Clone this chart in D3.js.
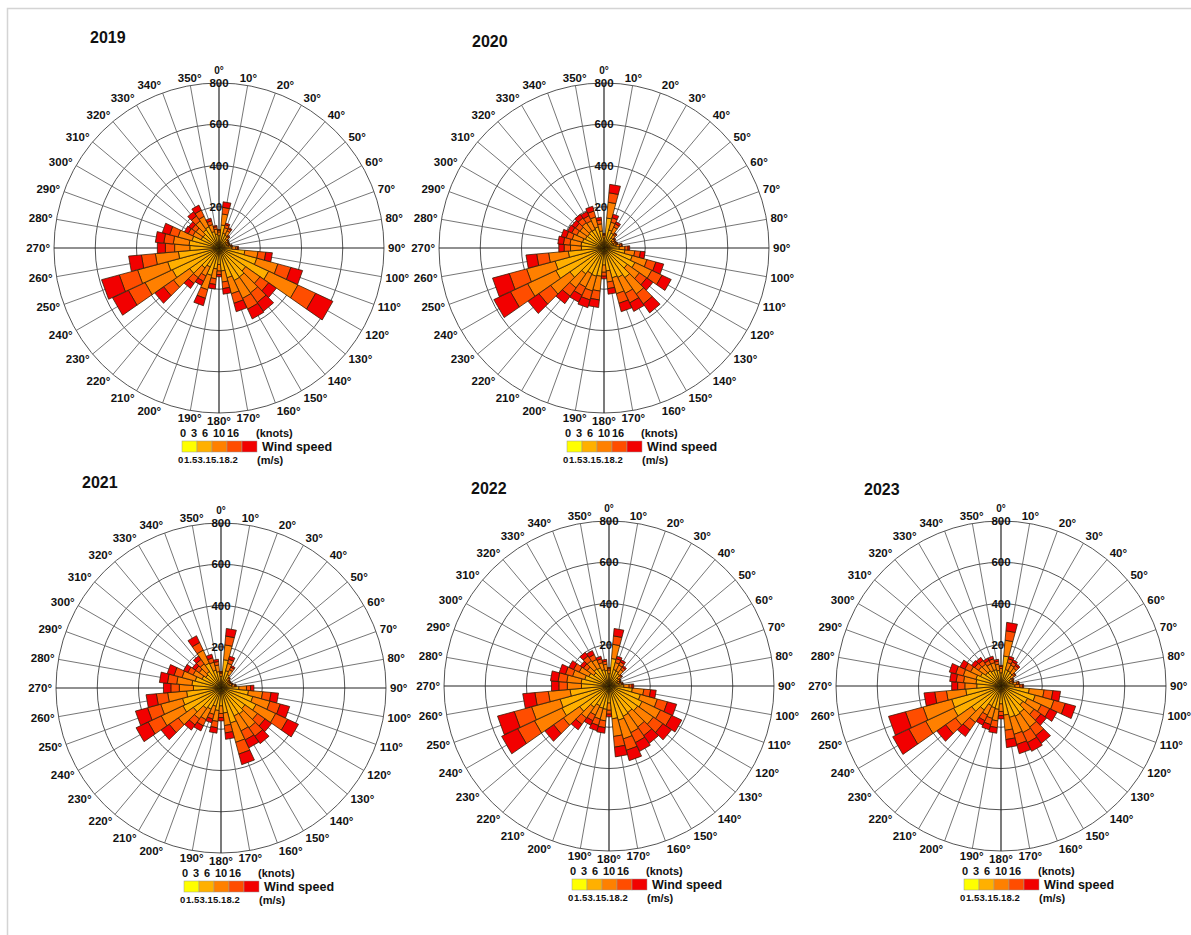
<!DOCTYPE html>
<html lang="en">
<head>
<meta charset="UTF-8">
<title>Wind roses 2019-2023</title>
<style>
  body { margin: 0; background: #fff; }
  svg { display: block; font-family: "Liberation Sans", Arial, sans-serif; }
  .deg { font-size: 11.5px; font-weight: bold; fill: #111; }
  .ring-label { font-size: 11.5px; font-weight: bold; fill: #111; }
  .title { font-size: 16px; font-weight: bold; fill: #111; }
  .leg { font-size: 11px; font-weight: bold; fill: #111; }
</style>
</head>
<body>
<svg id="chart" width="1191" height="935"></svg>
<script src="https://d3js.org/d3.v7.min.js"></script>
<script>
// directions of the 36 sectors (degrees, from north, clockwise)
const directions = d3.range(0, 360, 10);

// speed classes (m/s and knots)
const classLabels = ["0-1.5", "1.5-3.1", "3.1-5.1", "5.1-8.2", ">=8.2"];
const knotTicks = ["0", "3", "6", "10", "16"];
const msTicks = ["0", "1.5", "3.1", "5.1", "8.2"];
const classColors = ["#ffff00", "#ffb000", "#ff8000", "#ff4d00", "#f20000"];
const ringTicks = [200, 400, 600, 800];

// counts per direction: [0-1.5, 1.5-3.1, 3.1-5.1, 5.1-8.2, >8.2]
const rose2019 = [
  [20,40,18,8,4],[20,92,54,32,27],[20,54,28,15,8],[20,48,24,12,6],[19,34,14,5,3],[16,27,11,4,2],
  [15,25,10,4,1],[15,25,10,4,1],[17,29,12,5,2],[20,43,19,8,5],[20,106,64,38,32],[20,170,106,65,59],
  [20,246,157,95,92],[20,138,85,51,46],[20,152,94,57,52],[20,154,96,58,52],[20,130,80,48,42],[20,92,54,32,27],
  [20,60,32,17,11],[20,82,48,28,22],[20,118,72,43,37],[20,82,48,28,22],[20,98,58,35,29],[20,154,96,58,52],
  [20,230,146,89,85],[20,238,151,92,89],[20,178,112,68,62],[20,122,74,45,39],[20,126,77,46,41],[20,116,70,42,37],
  [20,76,44,25,20],[20,74,43,24,19],[20,88,52,30,25],[20,94,56,33,27],[20,63,35,19,13],[20,48,24,12,6]
];
const rose2020 = [
  [18,31,13,5,3],[20,126,77,46,41],[20,70,40,22,18],[20,60,32,17,11],[20,40,18,8,4],[18,31,13,5,3],
  [17,29,12,5,2],[18,31,13,5,3],[20,40,18,8,4],[20,54,28,15,8],[20,82,48,28,22],[20,122,74,45,39],
  [20,146,90,55,49],[20,118,72,43,37],[20,156,97,59,53],[20,138,85,51,46],[20,130,80,48,42],[20,92,54,32,27],
  [20,63,35,19,13],[20,118,72,43,37],[20,122,74,45,39],[20,118,72,43,37],[20,134,82,50,44],[20,182,114,70,64],
  [20,238,151,92,89],[20,226,143,87,84],[20,154,96,58,52],[20,90,53,31,26],[20,92,54,32,27],[20,88,52,30,25],
  [20,80,46,27,22],[20,78,45,26,21],[20,82,48,28,22],[20,80,46,27,22],[20,86,50,30,24],[20,63,35,19,13]
];
const rose2021 = [
  [20,36,15,6,3],[20,118,72,43,37],[20,67,37,20,16],[20,52,26,14,8],[17,29,12,5,2],[15,25,10,4,1],
  [15,25,10,4,1],[16,27,11,4,2],[19,34,14,5,3],[20,67,37,20,16],[20,114,69,41,36],[20,140,86,52,47],
  [20,168,105,64,58],[20,122,74,45,39],[20,134,82,50,44],[20,130,80,48,42],[20,156,97,59,53],[20,102,61,36,31],
  [20,67,37,20,16],[20,90,53,31,26],[20,72,41,23,19],[20,94,56,33,27],[20,102,61,36,31],[20,144,89,54,48],
  [20,184,116,70,65],[20,174,109,66,61],[20,148,92,55,50],[20,114,69,41,36],[20,122,74,45,39],[20,110,66,40,34],
  [20,82,48,28,22],[20,70,40,22,18],[20,78,45,26,21],[20,114,69,41,36],[20,70,40,22,18],[20,60,32,17,11]
];
const rose2022 = [
  [20,40,18,8,4],[20,114,69,41,36],[20,63,35,19,13],[20,60,32,17,11],[20,52,26,14,8],[20,36,15,6,3],
  [17,29,12,5,2],[16,27,11,4,2],[18,31,13,5,3],[20,52,26,14,8],[20,94,56,33,27],[20,138,85,51,46],
  [20,158,98,60,54],[20,150,93,56,51],[20,138,85,51,46],[20,142,88,53,47],[20,152,94,57,52],[20,140,86,52,47],
  [20,63,35,19,13],[20,94,56,33,27],[20,92,54,32,27],[20,86,50,30,24],[20,106,64,38,32],[20,154,96,58,52],
  [20,232,147,90,86],[20,226,143,87,84],[20,170,106,65,59],[20,114,69,41,36],[20,116,70,42,37],[20,102,61,36,31],
  [20,88,52,30,25],[20,70,40,22,18],[20,82,48,28,22],[20,78,45,26,21],[20,63,35,19,13],[20,56,30,15,9]
];
const rose2023 = [
  [20,44,21,10,5],[20,126,77,46,41],[20,63,35,19,13],[20,60,32,17,11],[20,56,30,15,9],[20,40,18,8,4],
  [18,31,13,5,3],[17,29,12,5,2],[20,40,18,8,4],[20,48,24,12,6],[20,118,72,43,37],[20,152,94,57,52],
  [20,122,74,45,39],[20,110,66,40,34],[20,138,85,51,46],[20,142,88,53,47],[20,138,85,51,46],[20,122,74,45,39],
  [20,67,37,20,16],[20,94,56,33,27],[20,90,53,31,26],[20,86,50,30,24],[20,122,74,45,39],[20,154,96,58,52],
  [20,234,149,90,87],[20,228,144,88,85],[20,152,94,57,52],[20,98,58,35,29],[20,102,61,36,31],[20,106,64,38,32],
  [20,90,53,31,26],[20,72,41,23,19],[20,70,40,22,18],[20,63,35,19,13],[20,63,35,19,13],[20,56,30,15,9]
];

// layout of the five panels
const panels = [
  { year: "2019", data: rose2019, cx: 219, cy: 248, tx: 90,  ty: 43 },
  { year: "2020", data: rose2020, cx: 604, cy: 248, tx: 472, ty: 47 },
  { year: "2021", data: rose2021, cx: 221, cy: 688, tx: 82,  ty: 488 },
  { year: "2022", data: rose2022, cx: 609, cy: 686, tx: 471, ty: 494 },
  { year: "2023", data: rose2023, cx: 1001, cy: 686, tx: 864, ty: 495 }
];

const R = 165;
const svg = d3.select("#chart");

// light frame of the figure
svg.append("path")
  .attr("d", "M7.5,935 L7.5,8.5 L1191,8.5")
  .attr("fill", "none")
  .attr("stroke", "#d4d4d4")
  .attr("stroke-width", 1.5);

const r = d3.scaleLinear().domain([0, 800]).range([0, R]);
const ang = d3.scaleLinear().domain([0, 360]).range([0, 2 * Math.PI]);
const color = d3.scaleOrdinal().domain(d3.range(5)).range(classColors);
const stack = d3.stack().keys(d3.range(5)).value((d, k) => d[k]);
const petal = d3.lineRadial().angle(p => p[0]).radius(p => p[1]).curve(d3.curveLinearClosed);
const half = ang(4.9);

panels.forEach(p => {
  const g = svg.append("g").attr("transform", `translate(${p.cx},${p.cy})`);

  svg.append("text").attr("class", "title")
    .attr("x", p.tx).attr("y", p.ty).text(p.year);

  // rings
  g.selectAll("circle.ring").data(ringTicks).enter().append("circle")
    .attr("class", "ring")
    .attr("r", d => r(d))
    .attr("fill", "none")
    .attr("stroke", "#555")
    .attr("stroke-width", 1);

  // spokes
  g.selectAll("line.spoke").data(directions).enter().append("line")
    .attr("class", "spoke")
    .attr("x1", 0).attr("y1", 0)
    .attr("x2", d => R * Math.sin(ang(d)))
    .attr("y2", d => -R * Math.cos(ang(d)))
    .attr("stroke", d => d % 90 === 0 ? "#222" : "#666")
    .attr("stroke-width", d => d % 90 === 0 ? 1.2 : 0.9);

  // ring values along north axis
  g.selectAll("text.ring-label").data(ringTicks).enter().append("text")
    .attr("class", "ring-label")
    .attr("x", 0).attr("y", d => -r(d) + 1)
    .attr("text-anchor", "middle")
    .attr("dominant-baseline", "middle")
    .text(d => d);

  // direction labels
  g.selectAll("text.deg").data(directions).enter().append("text")
    .attr("class", "deg")
    .attr("x", d => (R + 4) * Math.sin(ang(d)))
    .attr("y", d => -(R + 4) * Math.cos(ang(d)) - (d === 0 ? 5 : 0))
    .attr("dy", d => (0.35 - 0.35 * Math.cos(ang(d))) + "em")
    .attr("text-anchor", d => {
      const s = Math.sin(ang(d));
      return s > 0.2 ? "start" : (s < -0.2 ? "end" : "middle");
    })
    .style("font-size", d => d === 0 ? "10px" : null)
    .text(d => d + "°");

  // petals
  const series = stack(p.data);
  g.selectAll("g.cls").data(series).enter().append("g")
    .attr("class", "cls")
    .attr("fill", (s, i) => color(i))
    .selectAll("path").data(s => s.map((v, i) => ({ v, dir: directions[i] })))
    .enter().append("path")
    .attr("d", d => {
      const a = ang(d.dir), r0 = r(d.v[0]), r1 = r(d.v[1]);
      return petal([[a - half, r0], [a - half, r1], [a + half, r1], [a + half, r0]]);
    })
    .attr("stroke", "#2e1a00")
    .attr("stroke-width", 0.75);

  // legend
  const lg = g.append("g").attr("class", "legend");
  const bx = d3.scaleBand().domain(d3.range(5)).range([-37, 38]);
  lg.selectAll("rect").data(d3.range(5)).enter().append("rect")
    .attr("x", d => bx(d)).attr("y", 193)
    .attr("width", bx.bandwidth()).attr("height", 11)
    .attr("fill", d => color(d))
    .attr("stroke", "#999").attr("stroke-width", 0.5);

  const knotX = [-36, -25, -14, 0, 14];
  lg.selectAll("text.kn").data(knotTicks).enter().append("text")
    .attr("class", "leg kn")
    .attr("x", (d, i) => knotX[i]).attr("y", 185)
    .attr("dy", "0.35em").attr("text-anchor", "middle")
    .text(d => d);
  lg.append("text").attr("class", "leg")
    .attr("x", 37).attr("y", 185).attr("dy", "0.35em").text("(knots)");

  // m/s ticks sit tightly together as in the original plot
  const msX = [-41, -35, -21.5, -8, 5.5];
  lg.selectAll("text.ms").data(msTicks).enter().append("text")
    .attr("class", "leg ms")
    .attr("x", (d, i) => msX[i]).attr("y", 212)
    .attr("dy", "0.35em")
    .style("font-size", "9.5px")
    .text(d => d);
  lg.append("text").attr("class", "leg")
    .attr("x", 38).attr("y", 212).attr("dy", "0.35em").text("(m/s)");

  lg.append("text").attr("class", "leg")
    .attr("x", 43).attr("y", 198.5).attr("dy", "0.35em")
    .style("font-size", "12.5px")
    .text("Wind speed");
});
</script>
</body>
</html>
